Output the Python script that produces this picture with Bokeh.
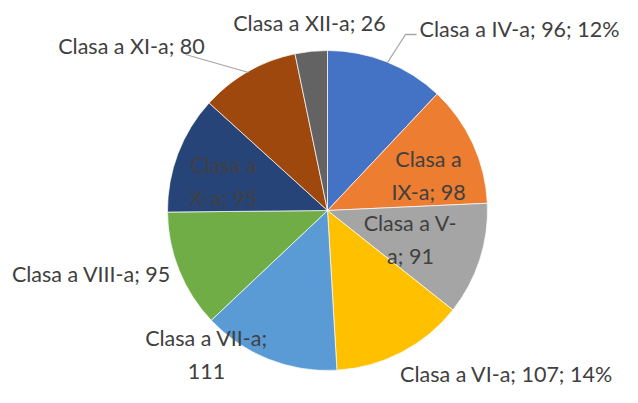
import numpy as np
from bokeh.plotting import figure
from bokeh.models import Range1d, ColumnDataSource
from bokeh.core.properties import value
from bokeh.embed import file_html
from bokeh.resources import INLINE

# ---- data ----
classes = ["Clasa a IV-a", "Clasa a IX-a", "Clasa a V-a", "Clasa a VI-a", "Clasa a VII-a",
           "Clasa a VIII-a", "Clasa a X-a", "Clasa a XI-a", "Clasa a XII-a"]
students = [96, 98, 91, 107, 111, 95, 95, 80, 26]
colors = ["#4472C4", "#ED7D31", "#A5A5A5", "#FFC000", "#5B9BD5",
          "#70AD47", "#264478", "#9E480E", "#636363"]
label_texts = ["Clasa a IV-a; 96; 12%", "Clasa a\nIX-a; 98", "Clasa a V-\na; 91",
               "Clasa a VI-a; 107; 14%", "Clasa a VII-a;\n111", "Clasa a VIII-a; 95",
               "Clasa a\nX-a; 95", "Clasa a XI-a; 80", "Clasa a XII-a; 26"]

# ---- layout (canvas pixel coords, y measured from top; flipped below) ----
W, H = 622, 387
cx, cy, R = 327, 210, 160
label_pos = [(519, 28), (428, 175), (410, 239), (506, 373), (206, 354),
             (91, 273), (223, 181), (131, 45), (309, 22)]

vals = np.array(students, dtype=float)
frac = vals / vals.sum()
cum = np.concatenate([[0], np.cumsum(frac)])
start = np.pi / 2 - 2 * np.pi * cum[:-1]
end = np.pi / 2 - 2 * np.pi * cum[1:]

src = ColumnDataSource(dict(start=start, end=end, color=colors, name=classes))

p = figure(width=W, height=H, output_backend="svg", toolbar_location=None,
           x_range=Range1d(0, W), y_range=Range1d(0, H), min_border=0)
p.axis.visible = False
p.grid.visible = False
p.outline_line_color = None
p.background_fill_color = "white"

p.wedge(x=cx, y=H - cy, radius=R, start_angle="start", end_angle="end",
        direction="clock", fill_color="color", line_color="white", line_width=0.7,
        source=src)

# leader lines
line_col = "#A6A6A6"
p.line([387, 405, 416], [H - 62, H - 34, H - 34], line_color=line_col, line_width=1.3)
p.line([248, 185], [H - 72, H - 54], line_color=line_col, line_width=1.3)

lsrc = ColumnDataSource(dict(x=[a for a, b in label_pos], y=[H - b for a, b in label_pos],
                             t=label_texts))
p.text(x="x", y="y", text="t", source=lsrc, text_align="center", text_baseline="middle",
       text_font=value("Lato"), text_font_size="21.5px", text_color="#404040",
       text_line_height=1.28)

open("out.html", "w").write(file_html(p, INLINE))
